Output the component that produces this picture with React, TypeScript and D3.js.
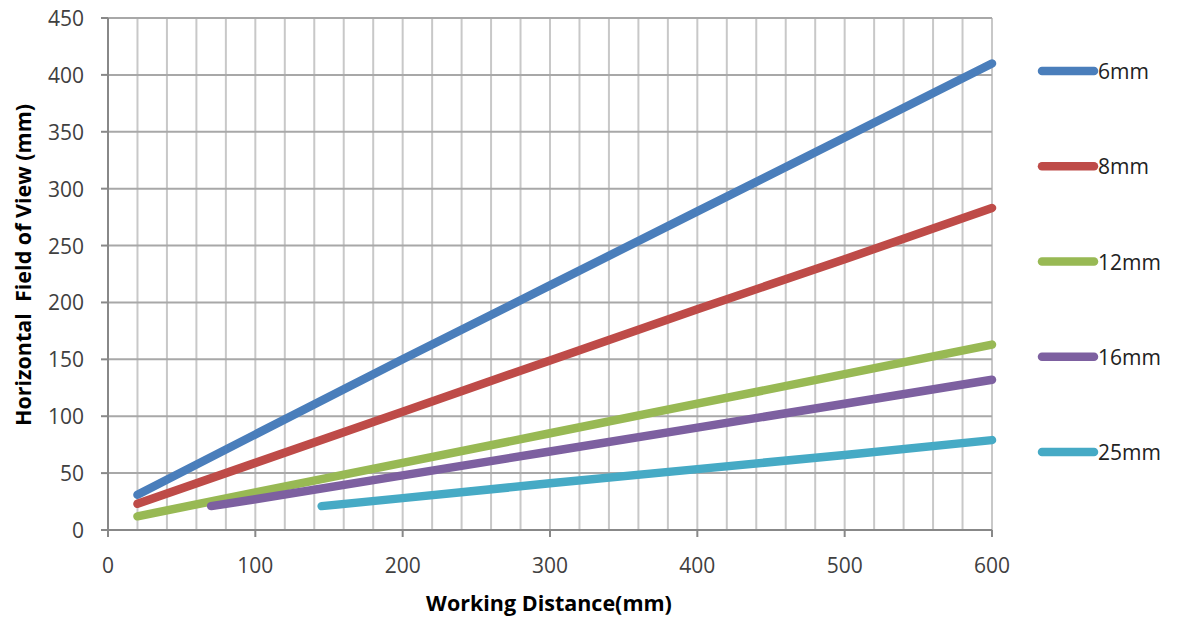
import React from "react";
import * as d3 from "d3";

const seriesNames = ["6mm", "8mm", "12mm", "16mm", "25mm"];
const seriesColors = ["#4a7ebb", "#be4b48", "#98b954", "#7d60a0", "#46aac5"];

const dist6 = [20, 100, 200, 300, 400, 500, 600];
const fov6 = [31, 84, 150, 215, 280, 345, 410];
const dist8 = [20, 100, 200, 300, 400, 500, 600];
const fov8 = [23, 59, 104, 149, 194, 238, 283];
const dist12 = [20, 100, 200, 300, 400, 500, 600];
const fov12 = [12, 33, 59, 85, 111, 137, 163];
const dist16 = [70, 100, 200, 300, 400, 500, 600];
const fov16 = [21, 27, 48, 69, 90, 111, 132];
const dist25 = [145, 200, 300, 400, 500, 600];
const fov25 = [21, 28, 41, 53.5, 66, 79];

const xTicks = [0, 100, 200, 300, 400, 500, 600];
const yTicks = [0, 50, 100, 150, 200, 250, 300, 350, 400, 450];

const allDist = [dist6, dist8, dist12, dist16, dist25];
const allFov = [fov6, fov8, fov12, fov16, fov25];

export default function App() {
  const W = 1179, H = 621;
  const left = 108, right = 992, top = 18, bottom = 530;
  const x = d3.scaleLinear().domain([0, 600]).range([left, right]);
  const y = d3.scaleLinear().domain([0, 450]).range([bottom, top]);
  const line = d3
    .line<[number, number]>()
    .x((d) => x(d[0]))
    .y((d) => y(d[1]));
  const minorX = d3.range(0, 601, 20);
  const font = "'Open Sans', 'Liberation Sans', sans-serif";
  const legendY = d3.scaleLinear().domain([0, 4]).range([71, 452]);

  return (
    <svg
      width={W}
      height={H}
      style={{ position: "absolute", left: 0, top: 0, background: "#fff" }}
      fontFamily={font}
    >
      {minorX.map((v) => (
        <line key={"vx" + v} x1={x(v)} x2={x(v)} y1={y(450)} y2={y(0)} stroke="#c8c8c8" strokeWidth={2} />
      ))}
      {yTicks.map((v) => (
        <line key={"hy" + v} x1={x(0)} x2={x(600)} y1={y(v)} y2={y(v)} stroke="#a8a8a8" strokeWidth={2} />
      ))}
      <line x1={x(0)} x2={x(0)} y1={y(450)} y2={y(0)} stroke="#888" strokeWidth={2} />
      <line x1={x(0)} x2={x(600)} y1={y(0)} y2={y(0)} stroke="#888" strokeWidth={2} />
      {yTicks.map((v) => (
        <line key={"yt" + v} x1={x(0) - 7} x2={x(0)} y1={y(v)} y2={y(v)} stroke="#888" strokeWidth={2} />
      ))}
      {xTicks.map((v) => (
        <line key={"xt" + v} x1={x(v)} x2={x(v)} y1={y(0)} y2={y(0) + 7} stroke="#888" strokeWidth={2} />
      ))}
      {yTicks.map((v) => (
        <text key={"yl" + v} x={84} y={y(v) + 8} textAnchor="end" fontSize={21} fill="#404040">
          {v}
        </text>
      ))}
      {xTicks.map((v) => (
        <text key={"xl" + v} x={x(v)} y={573} textAnchor="middle" fontSize={21} fill="#404040">
          {v}
        </text>
      ))}
      <text x={549} y={611} textAnchor="middle" fontSize={21.5} fontWeight="bold" fill="#000">
        Working Distance(mm)
      </text>
      <text
        transform={`translate(31,${265}) rotate(-90)`}
        textAnchor="middle"
        fontSize={21.5}
        fontWeight="bold"
        fill="#000"
        style={{ whiteSpace: "pre" }}
      >
        {"Horizontal  Field of View (mm)"}
      </text>
      {seriesNames.map((name, i) => {
        const pts = allDist[i].map((d, j) => [d, allFov[i][j]] as [number, number]);
        return (
          <path
            key={name}
            d={line(pts) || ""}
            fill="none"
            stroke={seriesColors[i]}
            strokeWidth={8.5}
            strokeLinecap="round"
            strokeLinejoin="round"
          />
        );
      })}
      {seriesNames.map((name, i) => (
        <g key={"lg" + name}>
          <line
            x1={1042}
            x2={1094}
            y1={legendY(i)}
            y2={legendY(i)}
            stroke={seriesColors[i]}
            strokeWidth={8.5}
            strokeLinecap="round"
          />
          <text x={1098} y={legendY(i) + 8} fontSize={21} fill="#222">
            {name}
          </text>
        </g>
      ))}
    </svg>
  );
}
